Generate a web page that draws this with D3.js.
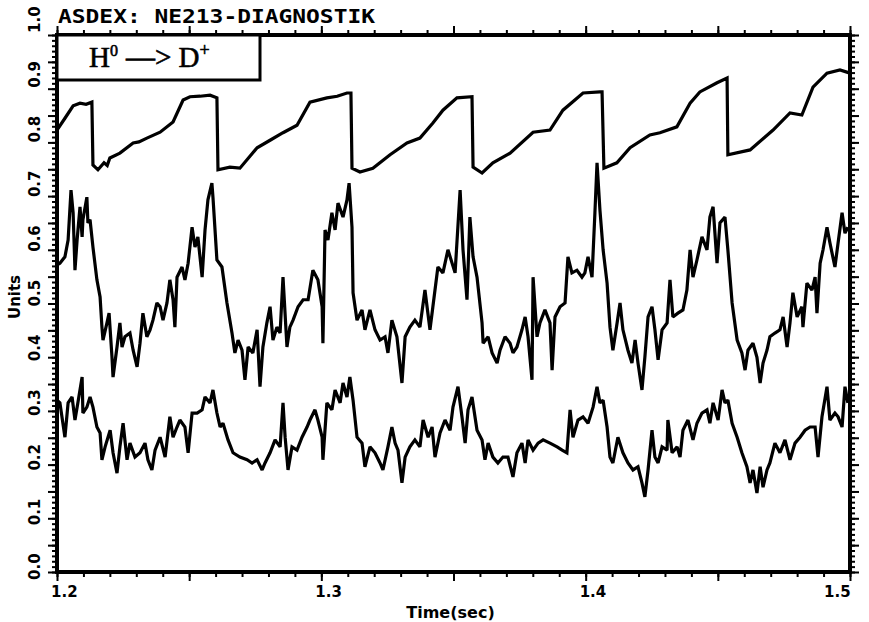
<!DOCTYPE html>
<html>
<head>
<meta charset="utf-8">
<script src="https://cdn.jsdelivr.net/npm/d3@7"></script>
<style>
  body { margin: 0; background: #fff; }
  svg { display: block; }
</style>
</head>
<body>
<script>
"use strict";
// ASDEX NE213 diagnostic, three traces vs time (sec)

var title = "ASDEX: NE213-DIAGNOSTIK";
var xLabel = "Time(sec)";
var yLabel = "Units";
var xTickLabels = [1.2, 1.3, 1.4, 1.5];
var yTickLabels = [0.0, 0.1, 0.2, 0.3, 0.4, 0.5, 0.6, 0.7, 0.8, 0.9, 1.0];

// upper trace (sawtooth), [time, value]
var topTrace = [
  [1.2000, 0.823], [1.2030, 0.845], [1.2061, 0.868], [1.2087, 0.873], [1.2110, 0.871],
  [1.2132, 0.875], [1.2136, 0.758], [1.2155, 0.749], [1.2178, 0.762], [1.2190, 0.757],
  [1.2200, 0.771], [1.2238, 0.780], [1.2288, 0.799], [1.2310, 0.801], [1.2340, 0.808],
  [1.2390, 0.819], [1.2439, 0.838], [1.2477, 0.879], [1.2503, 0.885], [1.2541, 0.886],
  [1.2579, 0.888], [1.2605, 0.883], [1.2609, 0.749], [1.2654, 0.754], [1.2692, 0.752],
  [1.2757, 0.790], [1.2806, 0.804], [1.2855, 0.818], [1.2908, 0.832], [1.2957, 0.875],
  [1.3021, 0.883], [1.3060, 0.886], [1.3097, 0.892], [1.3112, 0.892], [1.3116, 0.752],
  [1.3146, 0.745], [1.3195, 0.752], [1.3260, 0.777], [1.3324, 0.799], [1.3373, 0.808],
  [1.3422, 0.836], [1.3460, 0.860], [1.3513, 0.883], [1.3570, 0.885], [1.3574, 0.754],
  [1.3608, 0.743], [1.3649, 0.762], [1.3714, 0.780], [1.3801, 0.819], [1.3865, 0.823],
  [1.3914, 0.860], [1.3990, 0.892], [1.4054, 0.894], [1.4062, 0.894], [1.4069, 0.752],
  [1.4118, 0.762], [1.4168, 0.790], [1.4243, 0.814], [1.4281, 0.818], [1.4345, 0.829],
  [1.4395, 0.873], [1.4432, 0.894], [1.4497, 0.911], [1.4535, 0.920], [1.4538, 0.777],
  [1.4622, 0.786], [1.4709, 0.823], [1.4773, 0.855], [1.4818, 0.851], [1.4860, 0.903],
  [1.4913, 0.929], [1.4962, 0.935], [1.5000, 0.929]
];

// middle trace, [time, value]
var midTrace = [
  [1.2000, 0.572], [1.2011, 0.575], [1.2030, 0.587], [1.2042, 0.618], [1.2053, 0.711],
  [1.2061, 0.669], [1.2068, 0.562], [1.2076, 0.618], [1.2087, 0.680], [1.2095, 0.624],
  [1.2098, 0.656], [1.2113, 0.698], [1.2117, 0.650], [1.2125, 0.656], [1.2136, 0.605],
  [1.2151, 0.544], [1.2163, 0.512], [1.2170, 0.456], [1.2174, 0.432], [1.2189, 0.464],
  [1.2197, 0.482], [1.2208, 0.400], [1.2212, 0.363], [1.2227, 0.419], [1.2238, 0.464],
  [1.2246, 0.419], [1.2257, 0.438], [1.2276, 0.445], [1.2288, 0.413], [1.2303, 0.382],
  [1.2314, 0.426], [1.2325, 0.482], [1.2340, 0.438], [1.2352, 0.451], [1.2363, 0.469],
  [1.2378, 0.501], [1.2390, 0.494], [1.2401, 0.469], [1.2416, 0.501], [1.2427, 0.544],
  [1.2439, 0.507], [1.2446, 0.456], [1.2454, 0.549], [1.2473, 0.568], [1.2484, 0.544],
  [1.2496, 0.575], [1.2511, 0.642], [1.2522, 0.605], [1.2533, 0.624], [1.2549, 0.549],
  [1.2560, 0.637], [1.2571, 0.693], [1.2586, 0.724], [1.2590, 0.698], [1.2605, 0.581],
  [1.2624, 0.568], [1.2643, 0.501], [1.2662, 0.445], [1.2673, 0.408], [1.2685, 0.432],
  [1.2700, 0.413], [1.2711, 0.358], [1.2723, 0.419], [1.2741, 0.408], [1.2757, 0.451],
  [1.2768, 0.345], [1.2779, 0.419], [1.2794, 0.464], [1.2806, 0.494], [1.2817, 0.432],
  [1.2832, 0.456], [1.2844, 0.445], [1.2855, 0.549], [1.2870, 0.419], [1.2881, 0.456],
  [1.2893, 0.469], [1.2912, 0.494], [1.2931, 0.507], [1.2950, 0.507], [1.2968, 0.562],
  [1.2987, 0.544], [1.3003, 0.494], [1.3006, 0.426], [1.3014, 0.637], [1.3025, 0.618],
  [1.3040, 0.669], [1.3052, 0.637], [1.3063, 0.687], [1.3082, 0.661], [1.3097, 0.693],
  [1.3105, 0.724], [1.3116, 0.642], [1.3120, 0.520], [1.3135, 0.469], [1.3154, 0.488],
  [1.3165, 0.451], [1.3184, 0.488], [1.3203, 0.451], [1.3222, 0.432], [1.3241, 0.438],
  [1.3252, 0.408], [1.3267, 0.469], [1.3286, 0.438], [1.3305, 0.352], [1.3317, 0.438],
  [1.3335, 0.456], [1.3354, 0.469], [1.3373, 0.456], [1.3392, 0.525], [1.3411, 0.451],
  [1.3422, 0.494], [1.3441, 0.568], [1.3460, 0.557], [1.3479, 0.600], [1.3506, 0.557],
  [1.3525, 0.711], [1.3536, 0.600], [1.3551, 0.507], [1.3562, 0.661], [1.3574, 0.587],
  [1.3589, 0.549], [1.3608, 0.464], [1.3612, 0.426], [1.3631, 0.438], [1.3646, 0.408],
  [1.3665, 0.389], [1.3676, 0.413], [1.3695, 0.438], [1.3714, 0.426], [1.3725, 0.408],
  [1.3740, 0.419], [1.3759, 0.451], [1.3771, 0.475], [1.3782, 0.438], [1.3797, 0.358],
  [1.3801, 0.549], [1.3816, 0.438], [1.3827, 0.464], [1.3846, 0.488], [1.3865, 0.464],
  [1.3873, 0.376], [1.3884, 0.475], [1.3903, 0.494], [1.3922, 0.501], [1.3933, 0.587],
  [1.3948, 0.557], [1.3967, 0.562], [1.3986, 0.549], [1.3997, 0.557], [1.4009, 0.587],
  [1.4024, 0.549], [1.4035, 0.669], [1.4043, 0.762], [1.4054, 0.674], [1.4066, 0.600],
  [1.4081, 0.538], [1.4092, 0.456], [1.4103, 0.413], [1.4119, 0.464], [1.4130, 0.501],
  [1.4141, 0.451], [1.4160, 0.413], [1.4175, 0.389], [1.4187, 0.432], [1.4198, 0.389],
  [1.4213, 0.339], [1.4224, 0.400], [1.4236, 0.475], [1.4251, 0.494], [1.4262, 0.451],
  [1.4274, 0.395], [1.4289, 0.451], [1.4308, 0.464], [1.4319, 0.544], [1.4330, 0.475],
  [1.4349, 0.482], [1.4368, 0.488], [1.4383, 0.525], [1.4395, 0.600], [1.4406, 0.549],
  [1.4421, 0.581], [1.4440, 0.624], [1.4459, 0.600], [1.4470, 0.661], [1.4482, 0.680],
  [1.4497, 0.575], [1.4508, 0.650], [1.4527, 0.661], [1.4538, 0.600], [1.4554, 0.501],
  [1.4573, 0.432], [1.4591, 0.408], [1.4603, 0.376], [1.4614, 0.413], [1.4633, 0.426],
  [1.4648, 0.400], [1.4660, 0.352], [1.4671, 0.389], [1.4686, 0.413], [1.4697, 0.438],
  [1.4716, 0.445], [1.4735, 0.451], [1.4747, 0.475], [1.4762, 0.419], [1.4773, 0.464],
  [1.4784, 0.520], [1.4800, 0.475], [1.4818, 0.494], [1.4822, 0.456], [1.4837, 0.538],
  [1.4856, 0.525], [1.4868, 0.549], [1.4875, 0.482], [1.4887, 0.575], [1.4898, 0.600],
  [1.4913, 0.642], [1.4924, 0.613], [1.4943, 0.568], [1.4955, 0.613], [1.4970, 0.669],
  [1.4981, 0.631], [1.4992, 0.642]
];

// lower trace, [time, value]
var lowTrace = [
  [1.2000, 0.320], [1.2011, 0.315], [1.2030, 0.251], [1.2042, 0.315], [1.2057, 0.326],
  [1.2068, 0.283], [1.2079, 0.315], [1.2095, 0.363], [1.2098, 0.296], [1.2113, 0.307],
  [1.2125, 0.326], [1.2136, 0.307], [1.2151, 0.270], [1.2163, 0.259], [1.2170, 0.209],
  [1.2182, 0.233], [1.2201, 0.264], [1.2212, 0.222], [1.2227, 0.184], [1.2238, 0.233],
  [1.2250, 0.277], [1.2265, 0.209], [1.2276, 0.240], [1.2295, 0.214], [1.2314, 0.222],
  [1.2333, 0.240], [1.2344, 0.209], [1.2359, 0.190], [1.2371, 0.227], [1.2390, 0.251],
  [1.2409, 0.214], [1.2427, 0.289], [1.2439, 0.251], [1.2454, 0.270], [1.2465, 0.283],
  [1.2484, 0.270], [1.2496, 0.222], [1.2511, 0.296], [1.2530, 0.296], [1.2549, 0.302],
  [1.2560, 0.326], [1.2579, 0.315], [1.2590, 0.339], [1.2605, 0.296], [1.2617, 0.270],
  [1.2628, 0.277], [1.2647, 0.246], [1.2666, 0.222], [1.2692, 0.214], [1.2719, 0.209],
  [1.2738, 0.203], [1.2757, 0.209], [1.2776, 0.190], [1.2787, 0.203], [1.2806, 0.222],
  [1.2825, 0.246], [1.2844, 0.233], [1.2855, 0.315], [1.2863, 0.251], [1.2874, 0.190],
  [1.2889, 0.233], [1.2908, 0.227], [1.2927, 0.251], [1.2946, 0.270], [1.2957, 0.283],
  [1.2976, 0.302], [1.2987, 0.283], [1.3003, 0.251], [1.3006, 0.209], [1.3021, 0.315],
  [1.3040, 0.302], [1.3052, 0.339], [1.3071, 0.315], [1.3082, 0.352], [1.3097, 0.326],
  [1.3108, 0.363], [1.3120, 0.320], [1.3135, 0.251], [1.3154, 0.240], [1.3165, 0.196],
  [1.3184, 0.233], [1.3203, 0.222], [1.3222, 0.203], [1.3233, 0.190], [1.3252, 0.233],
  [1.3267, 0.270], [1.3279, 0.240], [1.3290, 0.227], [1.3305, 0.166], [1.3317, 0.214],
  [1.3335, 0.233], [1.3354, 0.246], [1.3373, 0.233], [1.3385, 0.283], [1.3404, 0.251],
  [1.3419, 0.270], [1.3430, 0.214], [1.3449, 0.259], [1.3468, 0.283], [1.3487, 0.264],
  [1.3498, 0.307], [1.3517, 0.345], [1.3532, 0.289], [1.3544, 0.240], [1.3555, 0.302],
  [1.3570, 0.326], [1.3589, 0.264], [1.3608, 0.246], [1.3619, 0.209], [1.3631, 0.240],
  [1.3649, 0.214], [1.3668, 0.203], [1.3687, 0.214], [1.3706, 0.214], [1.3725, 0.177],
  [1.3740, 0.222], [1.3759, 0.240], [1.3771, 0.203], [1.3782, 0.246], [1.3801, 0.227],
  [1.3820, 0.240], [1.3839, 0.246], [1.3865, 0.240], [1.3892, 0.233], [1.3911, 0.227],
  [1.3929, 0.222], [1.3941, 0.302], [1.3952, 0.251], [1.3971, 0.283], [1.3990, 0.289],
  [1.4009, 0.277], [1.4028, 0.307], [1.4043, 0.345], [1.4054, 0.315], [1.4066, 0.320],
  [1.4081, 0.270], [1.4092, 0.214], [1.4103, 0.203], [1.4122, 0.251], [1.4141, 0.222],
  [1.4160, 0.203], [1.4179, 0.190], [1.4198, 0.196], [1.4213, 0.166], [1.4224, 0.140],
  [1.4236, 0.190], [1.4251, 0.264], [1.4262, 0.214], [1.4274, 0.203], [1.4289, 0.233],
  [1.4308, 0.227], [1.4311, 0.283], [1.4327, 0.222], [1.4346, 0.233], [1.4357, 0.214],
  [1.4368, 0.264], [1.4387, 0.283], [1.4406, 0.246], [1.4421, 0.277], [1.4440, 0.296],
  [1.4459, 0.302], [1.4470, 0.277], [1.4482, 0.315], [1.4501, 0.283], [1.4516, 0.339],
  [1.4527, 0.315], [1.4538, 0.320], [1.4554, 0.277], [1.4573, 0.251], [1.4591, 0.222],
  [1.4610, 0.196], [1.4622, 0.166], [1.4633, 0.190], [1.4648, 0.147], [1.4660, 0.196],
  [1.4671, 0.158], [1.4686, 0.190], [1.4697, 0.203], [1.4716, 0.240], [1.4735, 0.222],
  [1.4754, 0.246], [1.4773, 0.209], [1.4792, 0.240], [1.4811, 0.251], [1.4830, 0.264],
  [1.4849, 0.270], [1.4868, 0.270], [1.4879, 0.214], [1.4894, 0.289], [1.4913, 0.345],
  [1.4924, 0.283], [1.4943, 0.296], [1.4955, 0.289], [1.4970, 0.270], [1.4981, 0.345],
  [1.4992, 0.315]
];

var width = 869;
var height = 622;
var margin = {top: 35, right: 19, bottom: 50, left: 57};
var labelFont = "'DejaVu Sans', sans-serif";

var svg = d3.select("body").append("svg")
  .attr("width", width)
  .attr("height", height);

var x = d3.scaleLinear().domain([1.2, 1.5]).range([margin.left, width - margin.right]);
var y = d3.scaleLinear().domain([0, 1]).range([height - margin.bottom, margin.top]);

//////// axes ////////
var minorX = d3.range(0, 31).map(function(i) { return 1.2 + i * 0.01; });
var majorX = d3.range(0, 7).map(function(i) { return 1.2 + i * 0.05; });
var minorY = d3.range(0, 101).map(function(i) { return i * 0.01; });
var majorY = d3.range(0, 21).map(function(i) { return i * 0.05; });

function drawAxis(axis, tx, ty) {
  var g = svg.append("g")
    .attr("transform", "translate(" + tx + "," + ty + ")")
    .call(axis);
  g.selectAll("text").remove();
  g.select(".domain").remove();
  g.selectAll("line").attr("stroke", "#000").attr("stroke-width", 2);
  return g;
}

var x0 = x.range()[0], x1 = x.range()[1];
var y0 = y.range()[0], y1 = y.range()[1];

drawAxis(d3.axisBottom(x).tickValues(minorX).tickSize(5), 0, y0);
drawAxis(d3.axisBottom(x).tickValues(majorX).tickSize(9), 0, y0);
drawAxis(d3.axisTop(x).tickValues(minorX).tickSize(5), 0, y1);
drawAxis(d3.axisTop(x).tickValues(majorX).tickSize(9), 0, y1);
drawAxis(d3.axisLeft(y).tickValues(minorY).tickSize(5), x0, 0);
drawAxis(d3.axisLeft(y).tickValues(majorY).tickSize(9), x0, 0);
drawAxis(d3.axisRight(y).tickValues(minorY).tickSize(5), x1, 0);
drawAxis(d3.axisRight(y).tickValues(majorY).tickSize(9), x1, 0);

// frame
svg.append("rect")
  .attr("x", x0).attr("y", y1)
  .attr("width", x1 - x0).attr("height", y0 - y1)
  .attr("fill", "none").attr("stroke", "#000").attr("stroke-width", 4);

// x tick labels (last one pulled in so it stays on the page)
svg.selectAll(".xlab").data(xTickLabels).enter().append("text")
  .attr("class", "xlab")
  .attr("x", function(d, i) { return x(d) - (i === xTickLabels.length - 1 ? 26 : 6); })
  .attr("y", y0 + 25)
  .attr("font-family", labelFont)
  .attr("font-weight", "bold")
  .attr("font-size", 15)
  .text(function(d) { return d.toFixed(1); });

// y tick labels, rotated; plotter spaced them a bit wider than the ticks
var yLab = d3.scaleLinear().domain([0, 1]).range([y0 + 8, y1 - 2]);
svg.selectAll(".ylab").data(yTickLabels).enter().append("text")
  .attr("class", "ylab")
  .attr("transform", function(d) { return "translate(40," + yLab(d) + ") rotate(-90)"; })
  .attr("font-family", labelFont)
  .attr("font-weight", "bold")
  .attr("font-size", 15)
  .text(function(d) { return d.toFixed(1); });

// axis titles
svg.append("text")
  .attr("x", (x0 + x1) / 2 - 3)
  .attr("y", height - 4)
  .attr("text-anchor", "middle")
  .attr("font-family", labelFont)
  .attr("font-weight", "bold")
  .attr("font-size", 16)
  .text(xLabel);

svg.append("text")
  .attr("transform", "translate(20," + 297 + ") rotate(-90)")
  .attr("text-anchor", "middle")
  .attr("font-family", labelFont)
  .attr("font-weight", "bold")
  .attr("font-size", 15)
  .text(yLabel);

// title
svg.append("text")
  .attr("x", x0 + 1)
  .attr("y", 23)
  .attr("font-family", "'DejaVu Sans Mono', monospace")
  .attr("font-weight", "bold")
  .attr("font-size", 20)
  .attr("textLength", 317)
  .attr("lengthAdjust", "spacingAndGlyphs")
  .text(title);

//////// traces ////////
var line = d3.line()
  .x(function(d) { return x(d[0]); })
  .y(function(d) { return y(d[1]); });

[topTrace, midTrace, lowTrace].forEach(function(s) {
  svg.append("path")
    .datum(s)
    .attr("d", line)
    .attr("fill", "none")
    .attr("stroke", "#000")
    .attr("stroke-width", 3.2)
    .attr("stroke-linejoin", "miter")
    .attr("stroke-miterlimit", 2);
});

//////// legend box ////////
svg.append("rect")
  .attr("x", x0).attr("y", y1)
  .attr("width", 203).attr("height", 45)
  .attr("fill", "#fff").attr("stroke", "#000").attr("stroke-width", 3);

var leg = svg.append("text")
  .attr("x", 89)
  .attr("y", 67)
  .attr("font-family", "'Liberation Serif', serif")
  .attr("font-size", 29)
  .attr("stroke", "#000")
  .attr("stroke-width", 0.6);
leg.append("tspan").text("H");
leg.append("tspan").attr("font-size", 16).attr("dy", -11).text("0");
leg.append("tspan").attr("dy", 11).attr("dx", 8).text("—> D");
leg.append("tspan").attr("font-size", 18).attr("dy", -11).text("+");
</script>
</body>
</html>
